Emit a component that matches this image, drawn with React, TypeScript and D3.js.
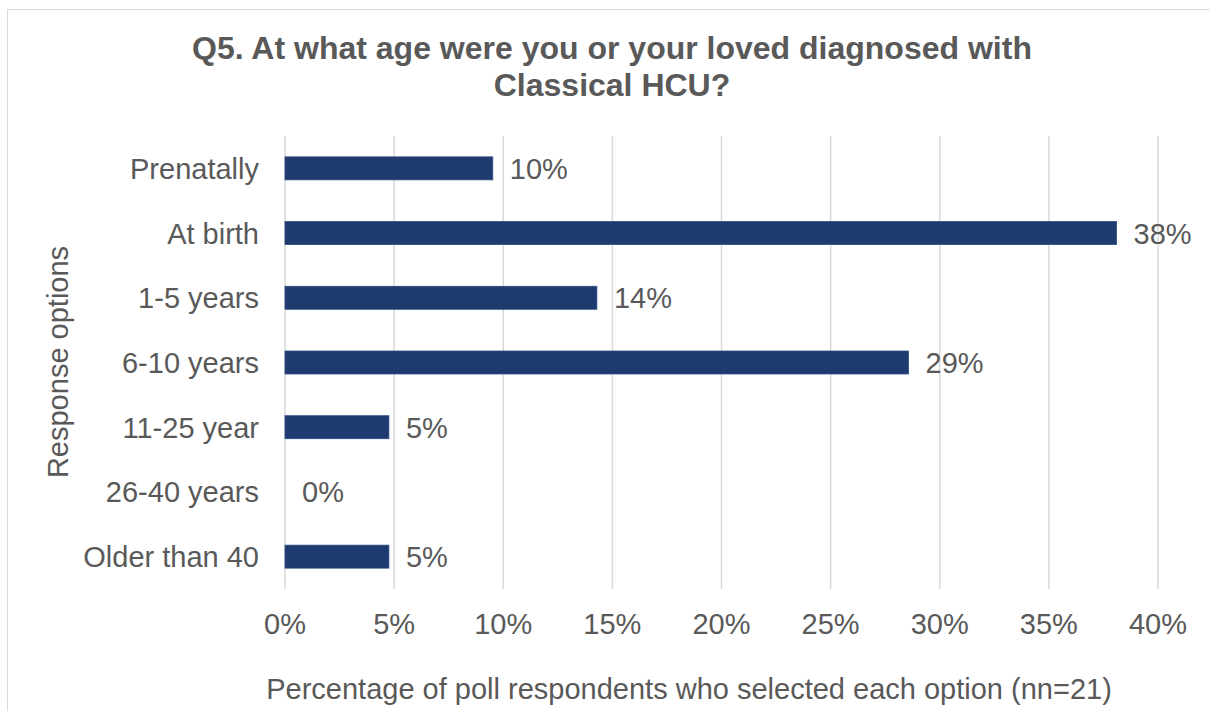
import React from "react";
import * as d3 from "d3";

const categories = ["Prenatally", "At birth", "1-5 years", "6-10 years", "11-25 year", "26-40 years", "Older than 40"];
const values = [0.0952, 0.381, 0.1429, 0.2857, 0.0476, 0, 0.0476];
const valueLabels = ["10%", "38%", "14%", "29%", "5%", "0%", "5%"];
const ticks = [0, 0.05, 0.1, 0.15, 0.2, 0.25, 0.3, 0.35, 0.4];
const titleLines = ["Q5. At what age were you or your loved diagnosed with", "Classical HCU?"];
const xTitle = "Percentage of poll respondents who selected each option (nn=21)";
const yTitle = "Response options";

export default function App() {
  const W = 1210, H = 711;
  const x = d3.scaleLinear().domain([0, 0.4]).range([285, 1158]);
  const y = d3.scaleBand<string>().domain(categories).range([136, 589]).paddingInner(0.645).paddingOuter(0.3225);
  const font = "'Liberation Sans', Arial, sans-serif";
  const txt = "#595959";
  const fs = 29;
  return (
    <svg width={W} height={H} style={{ position: "absolute", left: 0, top: 0 }} fontFamily={font}>
      <rect x={0} y={0} width={W} height={H} fill="#fff" />
      <rect x={7.5} y={9.5} width={W + 10} height={H + 10} fill="none" stroke="#d9d9d9" strokeWidth={1} />
      {titleLines.map((t, i) => (
        <text key={i} x={612} y={59 + i * 36.5} textAnchor="middle" fontSize={32} fontWeight="bold" fill={txt}>{t}</text>
      ))}
      {ticks.map((t) => (
        <g key={t}>
          <line x1={x(t)} x2={x(t)} y1={136} y2={589} stroke="#d9d9d9" strokeWidth={1.5} />
          <text x={x(t)} y={634} textAnchor="middle" fontSize={fs} fill={txt}>{d3.format(".0%")(t)}</text>
        </g>
      ))}
      {categories.map((c, i) => {
        const cy = (y(c) as number) + y.bandwidth() / 2;
        return (
          <g key={c}>
            {values[i] > 0 && (
              <rect x={x(0)} y={y(c)} width={x(values[i]) - x(0)} height={y.bandwidth()} fill="#1f3a6e" stroke="#2c4a80" strokeWidth={0.8} />
            )}
            <text x={259} y={cy + 10.5} textAnchor="end" fontSize={fs} fill={txt}>{c}</text>
            <text x={x(values[i]) + 17} y={cy + 10.5} fontSize={fs} fill={txt}>{valueLabels[i]}</text>
          </g>
        );
      })}
      <text x={689} y={699} textAnchor="middle" fontSize={fs} fill={txt}>{xTitle}</text>
      <text transform={`translate(68,362) rotate(-90)`} textAnchor="middle" fontSize={fs} fill={txt}>{yTitle}</text>
    </svg>
  );
}
